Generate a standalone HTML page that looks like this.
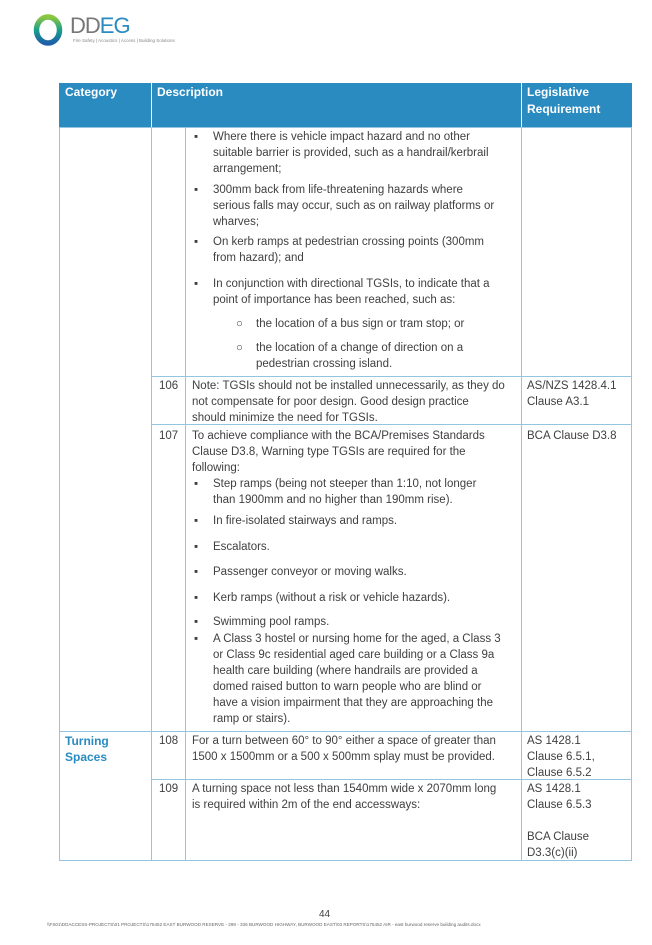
<!DOCTYPE html>
<html><head><style>
body{margin:0;width:652px;height:945px;background:#fff;position:relative;font-family:"Liberation Sans",sans-serif;color:#404040;overflow:hidden}
.t{position:absolute;font-size:11.5px;line-height:16px;white-space:nowrap}
.h{color:#fff;font-weight:bold;font-size:12px}
.b{position:absolute;background:#93c4e0}
</style></head><body>
<svg style="position:absolute;left:31px;top:13px" width="36" height="36"><defs><linearGradient id="g" x1="0" y1="0" x2="0" y2="1"><stop offset="0" stop-color="#8cc63f"/><stop offset=".5" stop-color="#1aa08a"/><stop offset="1" stop-color="#1d5fa8"/></linearGradient></defs><ellipse cx="17" cy="17" rx="11.5" ry="13" fill="none" stroke="url(#g)" stroke-width="5.5"/></svg>
<div class="t" style="left:70px;top:14px;font-size:22px;line-height:24px;color:#777;letter-spacing:-1px">DD<span style="color:#2a8bc1">EG</span></div>
<div class="t" style="left:73px;top:38px;font-size:4.5px;line-height:6px;color:#888">Fire Safety | Acoustics | Access | Building Solutions</div>

<div style="position:absolute;left:59px;top:83px;width:573px;height:44px;background:#2a8bc1"></div>
<div class="t h" style="left:65px;top:84px">Category</div>
<div class="t h" style="left:157px;top:84px">Description</div>
<div class="t h" style="left:527px;top:84px;line-height:17px">Legislative<br>Requirement</div>
<div class="b" style="left:151px;top:83px;width:1px;height:44px;background:#fff"></div>
<div class="b" style="left:521px;top:83px;width:1px;height:44px;background:#fff"></div>

<div class="b" style="left:59px;top:127px;width:1px;height:734px"></div>
<div class="b" style="left:631px;top:127px;width:1px;height:734px"></div>
<div class="b" style="left:151px;top:127px;width:1px;height:734px"></div>
<div class="b" style="left:185px;top:127px;width:1px;height:734px"></div>
<div class="b" style="left:521px;top:127px;width:1px;height:734px"></div>
<div class="b" style="left:59px;top:127px;width:573px;height:1px"></div>
<div class="b" style="left:151px;top:376px;width:481px;height:1px"></div>
<div class="b" style="left:151px;top:424px;width:481px;height:1px"></div>
<div class="b" style="left:59px;top:731px;width:573px;height:1px"></div>
<div class="b" style="left:151px;top:779px;width:481px;height:1px"></div>
<div class="b" style="left:59px;top:860px;width:573px;height:1px"></div>

<div class="t" style="left:194px;top:129px">▪</div>
<div class="t" style="left:213px;top:129px">Where there is vehicle impact hazard and no other<br>suitable barrier is provided, such as a handrail/kerbrail<br>arrangement;</div>
<div class="t" style="left:194px;top:182px">▪</div>
<div class="t" style="left:213px;top:182px">300mm back from life-threatening hazards where<br>serious falls may occur, such as on railway platforms or<br>wharves;</div>
<div class="t" style="left:194px;top:234px">▪</div>
<div class="t" style="left:213px;top:234px">On kerb ramps at pedestrian crossing points (300mm<br>from hazard); and</div>
<div class="t" style="left:194px;top:276px">▪</div>
<div class="t" style="left:213px;top:276px">In conjunction with directional TGSIs, to indicate that a<br>point of importance has been reached, such as:</div>
<div class="t" style="left:236px;top:316px">○</div>
<div class="t" style="left:256px;top:316px">the location of a bus sign or tram stop; or</div>
<div class="t" style="left:236px;top:340px">○</div>
<div class="t" style="left:256px;top:340px">the location of a change of direction on a<br>pedestrian crossing island.</div>

<div class="t" style="left:159px;top:378px">106</div>
<div class="t" style="left:192px;top:378px">Note: TGSIs should not be installed unnecessarily, as they do<br>not compensate for poor design. Good design practice<br>should minimize the need for TGSIs.</div>
<div class="t" style="left:527px;top:378px">AS/NZS 1428.4.1<br>Clause A3.1</div>

<div class="t" style="left:159px;top:428px">107</div>
<div class="t" style="left:192px;top:428px">To achieve compliance with the BCA/Premises Standards<br>Clause D3.8, Warning type TGSIs are required for the<br>following:</div>
<div class="t" style="left:527px;top:428px">BCA Clause D3.8</div>
<div class="t" style="left:194px;top:476px">▪</div>
<div class="t" style="left:213px;top:476px">Step ramps (being not steeper than 1:10, not longer<br>than 1900mm and no higher than 190mm rise).</div>
<div class="t" style="left:194px;top:513px">▪</div><div class="t" style="left:213px;top:513px">In fire-isolated stairways and ramps.</div>
<div class="t" style="left:194px;top:539px">▪</div><div class="t" style="left:213px;top:539px">Escalators.</div>
<div class="t" style="left:194px;top:564px">▪</div><div class="t" style="left:213px;top:564px">Passenger conveyor or moving walks.</div>
<div class="t" style="left:194px;top:590px">▪</div><div class="t" style="left:213px;top:590px">Kerb ramps (without a risk or vehicle hazards).</div>
<div class="t" style="left:194px;top:614px">▪</div><div class="t" style="left:213px;top:614px">Swimming pool ramps.</div>
<div class="t" style="left:194px;top:631px">▪</div>
<div class="t" style="left:213px;top:631px">A Class 3 hostel or nursing home for the aged, a Class 3<br>or Class 9c residential aged care building or a Class 9a<br>health care building (where handrails are provided a<br>domed raised button to warn people who are blind or<br>have a vision impairment that they are approaching the<br>ramp or stairs).</div>

<div class="t" style="left:65px;top:733px;color:#2a8bc1;font-weight:bold;font-size:12px">Turning<br>Spaces</div>
<div class="t" style="left:159px;top:733px">108</div>
<div class="t" style="left:192px;top:733px">For a turn between 60° to 90° either a space of greater than<br>1500 x 1500mm or a 500 x 500mm splay must be provided.</div>
<div class="t" style="left:527px;top:733px">AS 1428.1<br>Clause 6.5.1,<br>Clause 6.5.2</div>
<div class="t" style="left:159px;top:781px">109</div>
<div class="t" style="left:192px;top:781px">A turning space not less than 1540mm wide x 2070mm long<br>is required within 2m of the end accessways:</div>
<div class="t" style="left:527px;top:781px">AS 1428.1<br>Clause 6.5.3<br><br>BCA Clause<br>D3.3(c)(ii)</div>

<div class="t" style="left:319px;top:909px;font-size:10px;line-height:12px">44</div>
<div class="t" style="left:47px;top:922px;font-size:4.6px;line-height:6px;color:#666">\\FS01\DDACCESS-PROJECTS\01 PROJECTS\175452 EAST BURWOOD RESERVE - 298 - 336 BURWOOD HIGHWAY, BURWOOD EAST\03 REPORTS\175452 AIR - east burwood reserve building audits.docx</div>
</body></html>
